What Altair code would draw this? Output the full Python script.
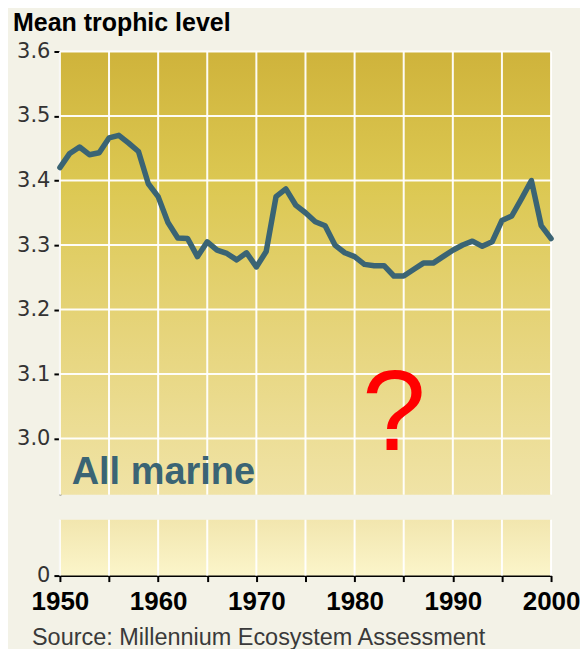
import altair as alt
import pandas as pd

# ---- data ----
years = list(range(1950, 2001))
trophic = [3.42, 3.442, 3.452, 3.44, 3.443, 3.466, 3.47, 3.458, 3.445, 3.395,
           3.375, 3.335, 3.311, 3.31, 3.282, 3.305, 3.292, 3.287, 3.277, 3.288,
           3.266, 3.29, 3.375, 3.387, 3.362, 3.35, 3.336, 3.33, 3.30, 3.288,
           3.282, 3.27, 3.268, 3.268, 3.252, 3.252, 3.262, 3.272, 3.272, 3.282,
           3.292, 3.30, 3.306, 3.298, 3.305, 3.338, 3.345, 3.372, 3.40, 3.33, 3.31]
grid_years = list(range(1950, 2001, 5))
grid_levels = [3.0, 3.1, 3.2, 3.3, 3.4, 3.5, 3.6]
decade_labels = [1950, 1960, 1970, 1980, 1990, 2000]

title_text = "Mean trophic level"
series_label = "All marine"
source_text = "Source: Millennium Ecosystem Assessment"

Y_MIN, Y_MAX = 2.913, 3.6
X_MIN, X_MAX = 1950, 2000
W, H1, H2 = 492, 444, 56

LINE_COLOR = "#3A6474"
PAGE_BG = "#F3F2E7"

df = pd.DataFrame({"year": years, "level": trophic})
gy = pd.DataFrame({"year": grid_years})
gl = pd.DataFrame({"level": grid_levels})

xs = alt.Scale(domain=[X_MIN, X_MAX], nice=False, zero=False)
ys_up = alt.Scale(domain=[Y_MIN, Y_MAX], nice=False, zero=False)
ys_lo = alt.Scale(domain=[0, 1], nice=False, zero=False)

y_axis_up = alt.Axis(values=grid_levels, format=".1f", grid=False, title=None,
                     domainColor="black", domainWidth=2, tickColor="black",
                     tickWidth=2, tickSize=6, labelFont="DejaVu Sans",
                     labelFontSize=21, labelColor="#333333", labelPadding=4)

grad_up = {"gradient": "linear", "x1": 0, "y1": 0, "x2": 0, "y2": 1,
           "stops": [{"offset": 0, "color": "#CFB33B"},
                     {"offset": 0.3, "color": "#DCC852"},
                     {"offset": 0.6, "color": "#E5D377"},
                     {"offset": 1, "color": "#F0E3A6"}]}
grad_lo = {"gradient": "linear", "x1": 0, "y1": 0, "x2": 0, "y2": 1,
           "stops": [{"offset": 0, "color": "#F2E6AE"},
                     {"offset": 1, "color": "#FBF5CA"}]}

bg_up = alt.Chart(pd.DataFrame({"x": [X_MIN], "x2": [X_MAX], "y": [Y_MIN], "y2": [Y_MAX]})).mark_rect(
    color=grad_up).encode(
    x=alt.X("x:Q", scale=xs, axis=None),
    x2="x2:Q",
    y=alt.Y("y:Q", scale=ys_up, axis=y_axis_up),
    y2="y2:Q",
)

vgrid_up = alt.Chart(gy).mark_rule(color="white", strokeWidth=2, opacity=0.95).encode(
    x=alt.X("year:Q", scale=xs), y=alt.value(0), y2=alt.value(H1))
hgrid_up = alt.Chart(gl).mark_rule(color="white", strokeWidth=2, opacity=0.95).encode(
    y=alt.Y("level:Q", scale=ys_up), x=alt.value(0), x2=alt.value(W))

line = alt.Chart(df).mark_line(color=LINE_COLOR, strokeWidth=5.5,
                               strokeJoin="round", strokeCap="round").encode(
    x=alt.X("year:Q", scale=xs), y=alt.Y("level:Q", scale=ys_up))

lab = alt.Chart(pd.DataFrame({"year": [1951.2], "level": [2.929], "t": [series_label]})).mark_text(
    font="Liberation Sans", fontWeight="bold", fontSize=38, color=LINE_COLOR,
    align="left", baseline="alphabetic").encode(
    x=alt.X("year:Q", scale=xs), y=alt.Y("level:Q", scale=ys_up), text="t:N")

qm = alt.Chart(pd.DataFrame({"year": [1984.0], "level": [2.983], "t": ["?"]})).mark_text(
    font="Liberation Sans", fontSize=115, color="#FF0000",
    align="center", baseline="alphabetic").encode(
    x=alt.X("year:Q", scale=xs), y=alt.Y("level:Q", scale=ys_up), text="t:N")

ttl = alt.Chart(pd.DataFrame({"t": [title_text]})).mark_text(
    font="Liberation Sans", fontWeight="bold", fontSize=25, color="black",
    align="left", baseline="alphabetic").encode(
    x=alt.value(-47), y=alt.value(-21), text="t:N")

upper = alt.layer(bg_up, vgrid_up, hgrid_up, line, lab, qm, ttl).properties(width=W, height=H1)

# ---- lower (broken-axis) panel ----
bg_lo = alt.Chart(pd.DataFrame({"x": [X_MIN], "x2": [X_MAX], "y": [0], "y2": [1]})).mark_rect(
    color=grad_lo).encode(
    x=alt.X("x:Q", scale=xs, title=None,
            axis=alt.Axis(values=grid_years, format="d", grid=False,
                          labelExpr="indexof([" + ",".join(str(d) for d in decade_labels) + "], datum.value) >= 0 ? datum.label : ''",
                          domainColor="black", domainWidth=2, tickColor="black",
                          tickWidth=2, tickSize=6, labelFont="Liberation Sans",
                          labelFontWeight="bold", labelFontSize=26, labelColor="black",
                          labelPadding=7, labelFlush=False, labelOverlap=False)),
    x2="x2:Q",
    y=alt.Y("y:Q", scale=ys_lo, title=None,
            axis=alt.Axis(values=[0], format="d", grid=False,
                          domainColor="black", domainWidth=2, tickColor="black",
                          tickWidth=2, tickSize=6, labelFont="DejaVu Sans",
                          labelFontSize=21, labelColor="#333333", labelPadding=4)),
    y2="y2:Q",
)
vgrid_lo = alt.Chart(gy).mark_rule(color="white", strokeWidth=2, opacity=0.95).encode(
    x=alt.X("year:Q", scale=xs), y=alt.value(0), y2=alt.value(H2))

src = alt.Chart(pd.DataFrame({"t": [source_text]})).mark_text(
    font="Liberation Sans", fontSize=23.5, color="#3A3A3A",
    align="left", baseline="alphabetic").encode(
    x=alt.value(-28), y=alt.value(126), text="t:N")

lower = alt.layer(bg_lo, vgrid_lo, src).properties(width=W, height=H2)

chart = alt.vconcat(upper, lower, spacing=23).properties(
    padding={"left": 5, "top": 2, "right": 0, "bottom": 0},
    background=PAGE_BG,
).configure_view(stroke=None)

chart.save("out.html", embed_options={"renderer": "svg", "actions": False})
